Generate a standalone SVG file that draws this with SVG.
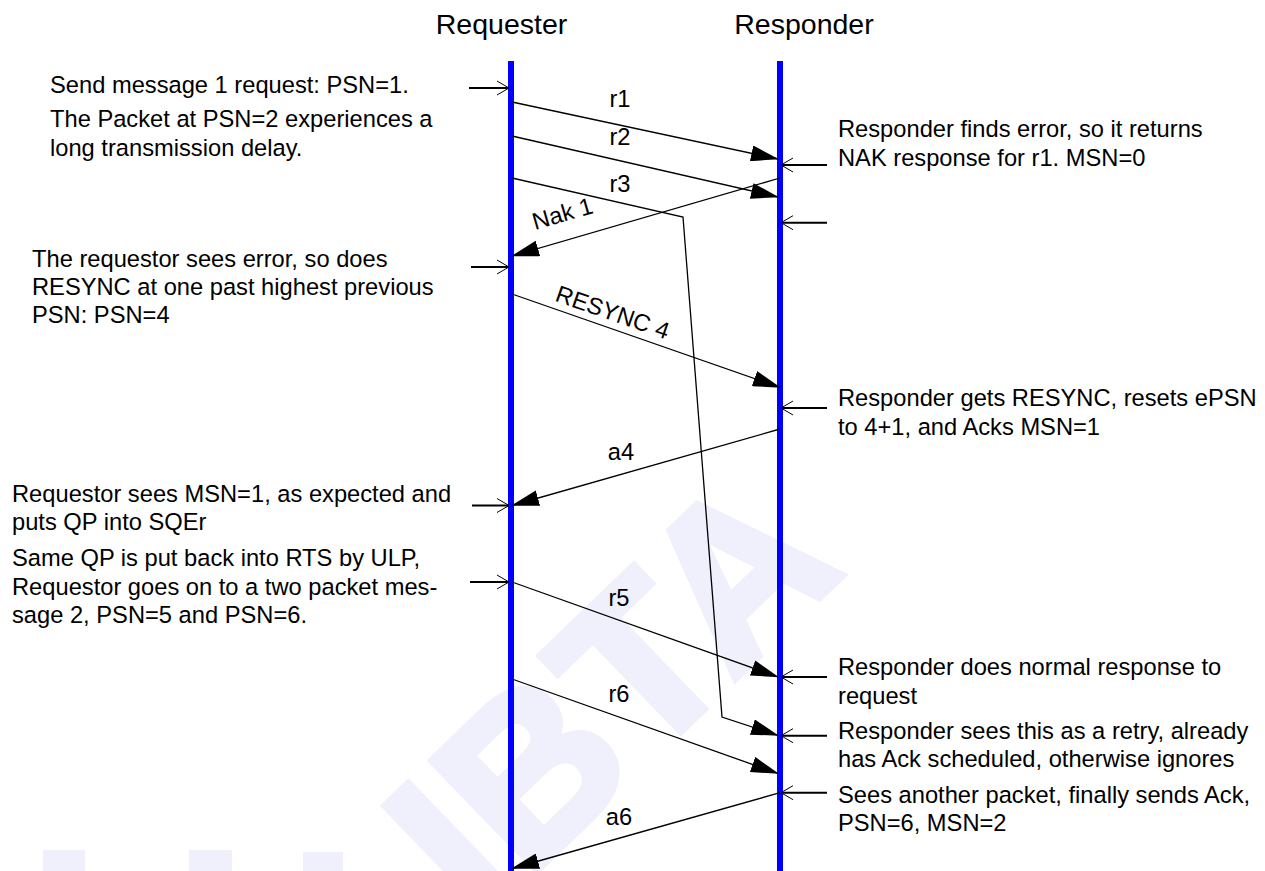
<svg xmlns="http://www.w3.org/2000/svg" width="1265" height="871" viewBox="0 0 1265 871">
<style>
text{font-family:"Liberation Sans",Arial,sans-serif;fill:#000}
.t{font-size:23.7px}
.h{font-size:28.5px}
.life{stroke:#0000ff;stroke-width:6;fill:none}
.msg{stroke:#000;stroke-width:1.3;fill:none;marker-end:url(#solid)}
.ptr{stroke:#000;stroke-width:2;fill:none;marker-end:url(#open)}
.wm{fill:#f0f0fc}
.wmt{fill:#f0f0fc;stroke:#f0f0fc;stroke-width:8;stroke-linejoin:miter;font-size:220px;font-weight:bold}
</style>
<defs>
<marker id="solid" markerUnits="userSpaceOnUse" markerWidth="28" markerHeight="16" viewBox="0 0 28 16" refX="27" refY="8" orient="auto"><path d="M0,0 L28,8 L0,16 z" fill="#000"/></marker>
<marker id="open" markerUnits="userSpaceOnUse" markerWidth="14" markerHeight="16" viewBox="0 0 14 16" refX="13" refY="8" orient="auto"><path d="M1,1 L13,8 L1,15" fill="none" stroke="#000" stroke-width="1"/></marker>
</defs>
<rect width="1265" height="871" fill="#fff"/>
<g id="watermark">
<text class="wmt" transform="translate(480,925) rotate(-44)" letter-spacing="4">IBTA</text>
<rect class="wm" x="43" y="850" width="42" height="21"/>
<rect class="wm" x="189" y="850" width="43" height="21"/>
<rect class="wm" x="303" y="852" width="40" height="19"/>
</g>
<g id="requester">
<text class="h" x="501.5" y="33.5" text-anchor="middle">Requester</text>
<line class="life" x1="511" y1="61" x2="511" y2="871"/>
</g>
<g id="responder">
<text class="h" x="804" y="33.5" text-anchor="middle">Responder</text>
<line class="life" x1="780" y1="61" x2="780" y2="871"/>
</g>
<g id="note-send">
<text class="t" x="50" y="92.5">Send message 1 request: PSN=1.</text>
</g>
<g id="note-delay">
<text class="t" x="50" y="127">The Packet at PSN=2 experiences a</text>
<text class="t" x="50" y="156">long transmission delay.</text>
</g>
<g id="note-resync">
<text class="t" x="32" y="266.5">The requestor sees error, so does</text>
<text class="t" x="32" y="295">RESYNC at one past highest previous</text>
<text class="t" x="32" y="323">PSN: PSN=4</text>
</g>
<g id="note-msn1">
<text class="t" x="12" y="502">Requestor sees MSN=1, as expected and</text>
<text class="t" x="12" y="530">puts QP into SQEr</text>
</g>
<g id="note-msg2">
<text class="t" x="12" y="566">Same QP is put back into RTS by ULP,</text>
<text class="t" x="12" y="594.5">Requestor goes on to a two packet mes-</text>
<text class="t" x="12" y="623">sage 2, PSN=5 and PSN=6.</text>
</g>
<g id="note-nak">
<text class="t" x="838" y="137.3">Responder finds error, so it returns</text>
<text class="t" x="838" y="166">NAK response for r1. MSN=0</text>
</g>
<g id="note-gets-resync">
<text class="t" x="838" y="406">Responder gets RESYNC, resets ePSN</text>
<text class="t" x="838" y="434.5">to 4+1, and Acks MSN=1</text>
</g>
<g id="note-normal">
<text class="t" x="838" y="675">Responder does normal response to</text>
<text class="t" x="838" y="703.5">request</text>
</g>
<g id="note-retry">
<text class="t" x="838" y="738.5">Responder sees this as a retry, already</text>
<text class="t" x="838" y="767">has Ack scheduled, otherwise ignores</text>
</g>
<g id="note-ack">
<text class="t" x="838" y="802.5">Sees another packet, finally sends Ack,</text>
<text class="t" x="838" y="830.5">PSN=6, MSN=2</text>
</g>
<g id="connectors">
<path class="msg" d="M512,102 L778,159"/>
<path class="msg" d="M512,136 L778,197"/>
<path class="msg" d="M512,178 L683,217 L722,717 L778,735.5"/>
<path class="msg" d="M780,178 L512,256"/>
<path class="msg" d="M512,294 L780,387.5"/>
<path class="msg" d="M780,429 L512,505.5"/>
<path class="msg" d="M512,582 L778,677"/>
<path class="msg" d="M512,679 L778,773.5"/>
<path class="msg" d="M780,792.7 L512,868.5"/>
<path class="ptr" d="M469,88 L509,88"/>
<path class="ptr" d="M471,267 L509,267"/>
<path class="ptr" d="M472,505.5 L509,505.5"/>
<path class="ptr" d="M470,582 L509,582"/>
<path class="ptr" d="M827,165 L781,165"/>
<path class="ptr" d="M827,222.7 L781,222.7"/>
<path class="ptr" d="M827,408 L781,408"/>
<path class="ptr" d="M827,677 L781,677"/>
<path class="ptr" d="M827,735.7 L781,735.7"/>
<path class="ptr" d="M827,792.7 L781,792.7"/>
<text class="t" x="620" y="106.7" text-anchor="middle">r1</text>
<text class="t" x="620" y="145" text-anchor="middle">r2</text>
<text class="t" x="620" y="191.7" text-anchor="middle">r3</text>
<text class="t" transform="translate(535,230) rotate(-16.2)">Nak 1</text>
<text class="t" transform="translate(554,300.5) rotate(19.2)">RESYNC 4</text>
<text class="t" x="621" y="460" text-anchor="middle">a4</text>
<text class="t" x="619" y="606" text-anchor="middle">r5</text>
<text class="t" x="619" y="701.7" text-anchor="middle">r6</text>
<text class="t" x="619" y="825" text-anchor="middle">a6</text>
</g>
</svg>
